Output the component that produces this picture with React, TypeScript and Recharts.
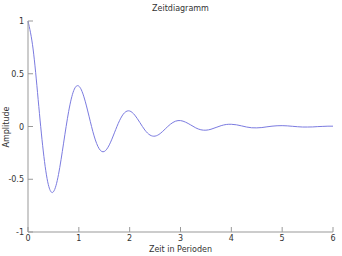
import React from 'react';
import { LineChart, Line, XAxis, YAxis } from 'recharts';

// time in periods (step 0.1)
const zeit = [
  0, 0.1, 0.2, 0.3, 0.4, 0.5, 0.6, 0.7, 0.8, 0.9,
  1, 1.1, 1.2, 1.3, 1.4, 1.5, 1.6, 1.7, 1.8, 1.9,
  2, 2.1, 2.2, 2.3, 2.4, 2.5, 2.6, 2.7, 2.8, 2.9,
  3, 3.1, 3.2, 3.3, 3.4, 3.5, 3.6, 3.7, 3.8, 3.9,
  4, 4.1, 4.2, 4.3, 4.4, 4.5, 4.6, 4.7, 4.8, 4.9,
  5, 5.1, 5.2, 5.3, 5.4, 5.5, 5.6, 5.7, 5.8, 5.9,
  6,
];

// amplitude
const amplitude = [
  1, 0.735, 0.255, -0.232, -0.551, -0.619, -0.455, -0.158, 0.143, 0.341,
  0.383, 0.281, 0.098, -0.089, -0.211, -0.237, -0.174, -0.06, 0.055, 0.131,
  0.147, 0.108, 0.038, -0.034, -0.081, -0.091, -0.067, -0.023, 0.021, 0.05,
  0.056, 0.041, 0.015, -0.013, -0.031, -0.035, -0.026, -0.009, 0.008, 0.019,
  0.021, 0.016, 0.006, -0.005, -0.012, -0.013, -0.01, -0.003, 0.003, 0.007,
  0.008, 0.006, 0.002, -0.002, -0.005, -0.005, -0.004, -0.001, 0.001, 0.003,
  0.003,
];

const xTicks = [0, 1, 2, 3, 4, 5, 6];
const yTicks = [-1, -0.5, 0, 0.5, 1];

const data = zeit.map((t, i) => ({ t, a: amplitude[i] }));

const FRAME = '#999999';
const TEXT = '#333333';
const FONT = 'DejaVu Sans, sans-serif';

const BottomTick = (props: any) => {
  const { x, y, payload } = props;
  return (
    <g>
      <line x1={x} y1={y} x2={x} y2={y - 5} stroke={FRAME} />
      <text x={x} y={y + 9} textAnchor="middle" fontSize={8} fill={TEXT} fontFamily={FONT}>
        {payload.value}
      </text>
    </g>
  );
};

const TopTick = (props: any) => {
  const { x, y } = props;
  return <line x1={x} y1={y} x2={x} y2={y + 5} stroke={FRAME} />;
};

const LeftTick = (props: any) => {
  const { x, y, payload } = props;
  return (
    <g>
      <line x1={x} y1={y} x2={x + 5} y2={y} stroke={FRAME} />
      <text x={x - 4} y={y + 3} textAnchor="end" fontSize={8} fill={TEXT} fontFamily={FONT}>
        {payload.value}
      </text>
    </g>
  );
};

const RightTick = (props: any) => {
  const { x, y } = props;
  return <line x1={x} y1={y} x2={x - 5} y2={y} stroke={FRAME} />;
};

export default function App() {
  return (
    <div style={{ position: 'absolute', left: 0, top: 0, width: 342, height: 256, background: '#fff', fontFamily: FONT }}>
      <LineChart width={342} height={256} data={data} margin={{ top: 21, right: 9, bottom: 0, left: 0 }}>
        <XAxis
          xAxisId="b"
          dataKey="t"
          type="number"
          domain={[0, 6]}
          ticks={xTicks}
          height={24}
          stroke={FRAME}
          tickLine={false}
          tickSize={0}
          tickMargin={0}
          tick={<BottomTick />}
        />
        <XAxis
          xAxisId="t"
          orientation="top"
          dataKey="t"
          type="number"
          domain={[0, 6]}
          ticks={xTicks}
          height={0}
          stroke={FRAME}
          tickLine={false}
          tickSize={0}
          tickMargin={0}
          tick={<TopTick />}
        />
        <YAxis
          yAxisId="l"
          type="number"
          domain={[-1, 1]}
          ticks={yTicks}
          width={28}
          stroke={FRAME}
          tickLine={false}
          tickSize={0}
          tickMargin={0}
          tick={<LeftTick />}
        />
        <YAxis
          yAxisId="r"
          orientation="right"
          type="number"
          domain={[-1, 1]}
          ticks={yTicks}
          width={0}
          stroke={FRAME}
          tickLine={false}
          tickSize={0}
          tickMargin={0}
          tick={<RightTick />}
        />
        <Line
          xAxisId="b"
          yAxisId="l"
          dataKey="a"
          type="natural"
          stroke="#7b7be0"
          strokeWidth={1}
          dot={false}
          isAnimationActive={false}
        />
      </LineChart>
      <div style={{ position: 'absolute', left: 28, width: 305, top: 4, textAlign: 'center', fontSize: 8, color: TEXT }}>
        Zeitdiagramm
      </div>
      <div style={{ position: 'absolute', left: 28, width: 305, top: 245, textAlign: 'center', fontSize: 8, color: TEXT }}>
        Zeit in Perioden
      </div>
      <div
        style={{
          position: 'absolute',
          left: 6,
          top: 127,
          fontSize: 8,
          color: TEXT,
          transform: 'translate(-50%, -50%) rotate(-90deg)',
          whiteSpace: 'nowrap',
        }}
      >
        Amplitude
      </div>
    </div>
  );
}
